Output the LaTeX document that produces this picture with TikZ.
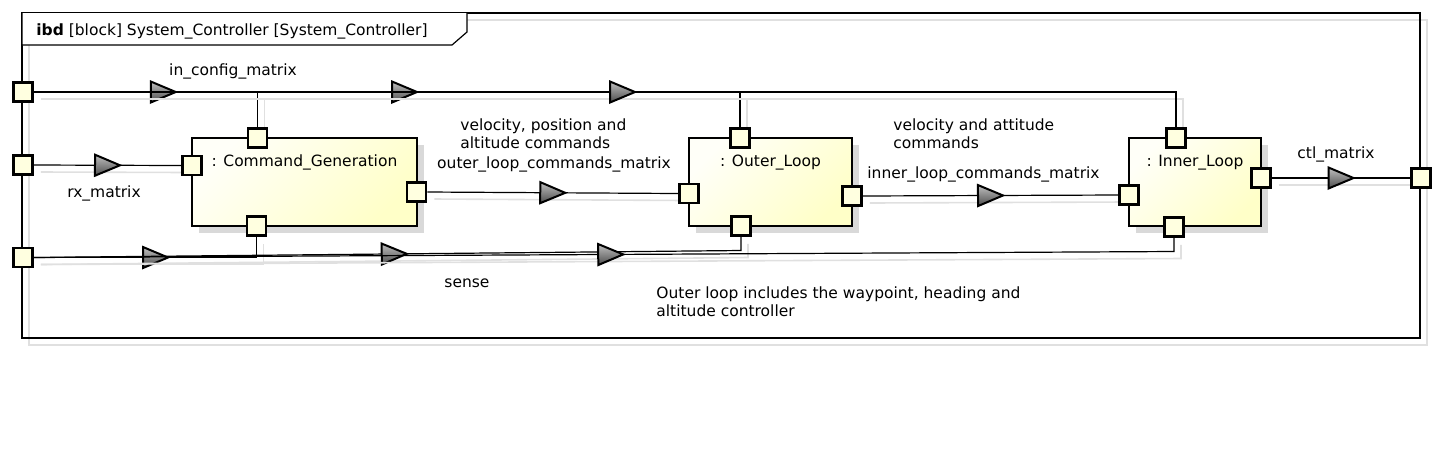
\documentclass[tikz,border=0pt]{standalone}
\usepackage{fontspec}
\setmainfont{DejaVu Sans}
\usepackage{xcolor}
\usetikzlibrary{calc,positioning,shadows,decorations.markings}
\pgfdeclarelayer{background}
\pgfsetlayers{background,main}
\newcommand{\px}{0.5pt}
\definecolor{portyellow}{HTML}{FFFFE0}
\definecolor{blockyellow}{HTML}{FFFFC8}
\definecolor{blockwhite}{HTML}{FFFFF8}
\colorlet{ghostgray}{black!12}
\colorlet{shadegray}{black!15}
\newcommand{\flowhead}{\draw[headsty] (-12.5,-10.5) -- (12.5,0) -- (-12.5,10.5) -- cycle;}
\tikzset{
    txtsty/.style={font=\fontsize{7.75}{8.75}\selectfont, inner sep=0pt},
    namesty/.style={txtsty, anchor=base},
    leftsty/.style={txtsty, anchor=base west, align=left},
    framesty/.style={draw, line width=0.6pt},
    ghoststy/.style={draw=ghostgray, line width=0.6pt},
    blocksty/.style={draw, rectangle, line width=1.4pt, minimum height=88*\px, inner ysep=0pt,
        text height=28*\px, text depth=60*\px, font=\fontsize{7.75}{8.75}\selectfont,
        top color=blockwhite, bottom color=blockyellow, shading angle=45,
        drop shadow={shadow xshift=3.5pt, shadow yshift=-3.5pt, fill=shadegray, opacity=1}},
    portsty/.style={draw, rectangle, line width=1.4pt, fill=portyellow, minimum size=19*\px, inner sep=0pt},
    headsty/.style={draw, line width=1pt, line join=miter, top color=black!25, bottom color=black!70},
    flowsty/.style={draw, line width=0.6pt,
        preaction={draw=ghostgray, line width=0.8pt, transform canvas={xshift=3.5pt, yshift=-3.5pt}},
        postaction={decorate, decoration={markings, mark=at position 0.5 with {\flowhead}}}},
}

\begin{document}
\begin{tikzpicture}[x=\px, y=-\px]
  \useasboundingbox (0,0) rectangle (1442,473);

  \draw[ghoststy] (29,45) -- (29,345) -- (1427,345) -- (1427,20) -- (467,20);
  \draw[framesty] (22,13) rectangle (1420,338);
  \draw[framesty, fill=white] (22,13) -- (22,45) -- (452,45) -- (467,32) -- (467,13);
  \node[leftsty] (title) at (36,35) {\textbf{ibd} [block] System\_Controller [System\_Controller]};

  \node[blocksty, minimum width=225*\px] (cg) at (304.5,182) {: Command\_Generation};
  \node[blocksty, minimum width=163*\px] (ol) at (770.5,182) {: Outer\_Loop};
  \node[blocksty, minimum width=132*\px] (il) at (1195,182) {: Inner\_Loop};

  \node[portsty] (pIn)    at (23,92)    {};
  \node[portsty] (pRx)    at (23,165)   {};
  \node[portsty] (pSense) at (23,257.5) {};
  \node[portsty] (pCtl)   at (1421,178) {};

  \node[portsty] (cgT) at (257.5,138) {};
  \node[portsty] (cgL) at (192,165.5) {};
  \node[portsty] (cgR) at (416.5,192) {};
  \node[portsty] (cgB) at (256.5,226) {};
  \node[portsty] (olT) at (740,138)   {};
  \node[portsty] (olL) at (689,193.5) {};
  \node[portsty] (olR) at (852,196)   {};
  \node[portsty] (olB) at (741,226)   {};
  \node[portsty] (ilT) at (1176,138)  {};
  \node[portsty] (ilL) at (1129,195)  {};
  \node[portsty] (ilR) at (1261,178)  {};
  \node[portsty] (ilB) at (1174,227)  {};

  \begin{pgfonlayer}{background}
    \draw[flowsty] (pIn.east) -| (cgT.north);
    \draw[flowsty] (pIn.east) -| (olT.north);
    \draw[flowsty] (pIn.east) -| (ilT.north);
    \draw[flowsty] (pRx.east) -- (cgL.west);
    \draw[flowsty] (cgR.east) -- (olL.west);
    \draw[flowsty] (olR.east) -- (ilL.west);
    \draw[flowsty] (ilR.east) -- (pCtl.west);
    \draw[flowsty] (pSense.east) -| (cgB.south);
    \draw[flowsty] (pSense.east) -- ($(pSense.east -| olB.south)+(0,-7)$) -- (olB.south);
    \draw[flowsty] (pSense.east) -- ($(pSense.east -| ilB.south)+(0,-6)$) -- (ilB.south);
  \end{pgfonlayer}

  \node[namesty] (inlbl)    at (233,75)   {in\_config\_matrix};
  \node[namesty] (rxlbl)    at (104,197)  {rx\_matrix};
  \node[namesty] (senselbl) at (467,287)  {sense};
  \node[leftsty] (outcmd)   at (460,148)  {velocity, position and\\altitude commands};
  \node[namesty] (outlbl)   at (554,168)  {outer\_loop\_commands\_matrix};
  \node[leftsty] (incmd)    at (893,148)  {velocity and attitude\\commands};
  \node[namesty] (inlbl2)   at (983.5,178) {inner\_loop\_commands\_matrix};
  \node[namesty] (ctllbl)   at (1336,158) {ctl\_matrix};
  \node[leftsty] (note)     at (656,316)  {Outer loop includes the waypoint, heading and\\altitude controller};
\end{tikzpicture}
\end{document}
